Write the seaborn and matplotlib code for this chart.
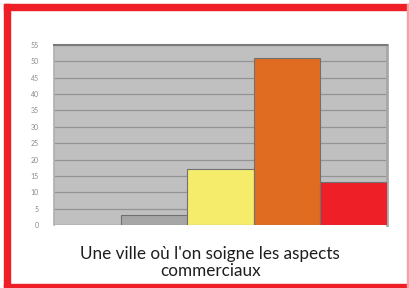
import seaborn as sns
import matplotlib.pyplot as plt
from matplotlib.patches import Rectangle
import pandas as pd

# Data
categories = ['A', 'B', 'C', 'D', 'E']
values = [0, 3, 17, 51, 13]
bar_colors = ['#a6a6a6', '#a6a6a6', '#f5ec6c', '#e06c22', '#ee1f27']
y_ticks = list(range(0, 60, 5))
title = "Une ville où l'on soigne les aspects\ncommerciaux"

sns.set_theme(style="white")
plt.rcParams['font.family'] = ['Lato', 'DejaVu Sans']

df = pd.DataFrame({'cat': categories, 'val': values})

W, H = 409, 288
fig = plt.figure(figsize=(W / 100, H / 100), dpi=100)
ax = fig.add_axes([54 / W, 1 - 225 / H, 333 / W, 180 / H])
ax.set_facecolor('#c0c0c0')

sns.barplot(data=df, x='cat', y='val', hue='cat', palette=bar_colors,
            saturation=1, width=1.0, legend=False, ax=ax,
            edgecolor='#707070', linewidth=0.8, zorder=3)

ax.set_ylim(0, 55)
ax.set_xlim(-0.5, len(categories) - 0.5)
ax.set_yticks(y_ticks)
ax.set_yticklabels([str(t) for t in y_ticks], fontsize=5, color='#8a8a8a')
ax.tick_params(axis='y', length=2, color='#888888', pad=9)
ax.set_xticks([])
ax.set_xlabel('')
ax.set_ylabel('')
ax.yaxis.grid(True, color='#939393', linewidth=0.9, zorder=1)
ax.set_axisbelow(True)
ax.spines['top'].set_color('#7a7a7a')
ax.spines['top'].set_linewidth(1.5)
ax.spines['right'].set_color('#a8a8a8')
ax.spines['right'].set_linewidth(2)
ax.spines['left'].set_color('#b0b0b0')
ax.spines['bottom'].set_visible(False)

fig.text(0.514, 1 - 262.5 / H, title, ha='center', va='center', fontsize=12.3,
         color='#1e1e1e', linespacing=1.15)

# red frame: thick top/left, thinner bottom, faint right
red = '#ee1f27'
fig.patches.append(Rectangle((4 / W, 1 - 10 / H), 405 / W, 6 / H, transform=fig.transFigure,
                             color=red, zorder=5))
fig.patches.append(Rectangle((4 / W, 1 - 287 / H), 6 / W, 283 / H, transform=fig.transFigure,
                             color=red, zorder=5))
fig.patches.append(Rectangle((4 / W, 1 - 287 / H), 405 / W, 3 / H, transform=fig.transFigure,
                             color=red, zorder=5))
fig.patches.append(Rectangle((407 / W, 1 - 287 / H), 1.5 / W, 283 / H, transform=fig.transFigure,
                             color='#f5a0a3', zorder=5))

fig.savefig('out.png', dpi=100)
